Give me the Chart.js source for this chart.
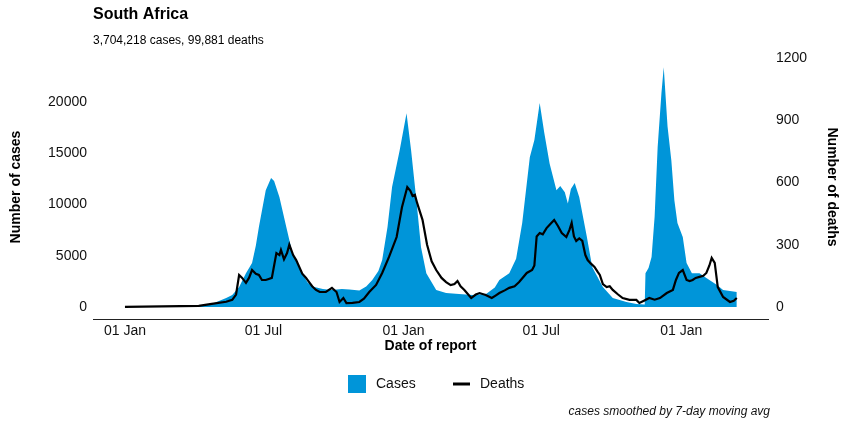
<!DOCTYPE html>
<html>
<head>
<meta charset="utf-8">
<script src="https://cdn.jsdelivr.net/npm/chart.js@4.4.1/dist/chart.umd.min.js"></script>
<style>
  html, body { margin: 0; padding: 0; background: #fff; }
  #wrap { width: 854px; height: 427px; }
</style>
</head>
<body>
<div id="wrap"><canvas id="chart" width="854" height="427"></canvas></div>
<script>
// days counted from 01 Jan 2020
const caseDays = [0, 60, 84, 100, 114, 133, 141, 150, 159, 167, 172, 176, 185, 192, 196, 203, 212, 220, 229, 240, 246, 260, 272, 285, 295, 308, 317, 325, 333, 338, 345, 351, 361, 370, 376, 383, 389, 396, 409, 422, 439, 457, 475, 486, 492, 505, 514, 522, 532, 538, 545, 551, 558, 567, 572, 578, 582, 586, 591, 597, 607, 614, 628, 641, 659, 672, 683, 684, 688, 692, 696, 700, 705, 708, 713, 718, 722, 726, 733, 738, 745, 755, 764, 778, 786, 804];
const caseCounts = [0, 0, 20, 120, 300, 880, 1170, 1950, 3300, 4290, 6000, 7800, 11400, 12580, 12300, 10700, 7800, 5270, 3800, 2400, 2000, 1750, 1650, 1750, 1700, 1600, 2000, 2630, 3500, 4590, 7800, 11700, 15300, 18900, 15300, 10400, 5850, 3300, 1660, 1370, 1270, 1170, 1300, 1900, 2630, 3300, 4700, 8200, 14600, 16300, 19900, 17000, 14000, 11400, 11800, 11200, 10100, 11500, 12100, 10700, 6830, 3900, 1950, 880, 490, 300, 250, 3300, 3800, 4880, 8800, 15600, 20900, 23400, 17600, 14300, 10400, 8200, 6830, 4290, 3300, 3300, 2830, 2150, 1660, 1460];

const deathDays = [0, 97, 114, 133, 141, 146, 150, 154, 159, 163, 167, 172, 176, 180, 185, 189, 193, 199, 203, 205, 209, 213, 216, 221, 225, 233, 238, 242, 246, 251, 256, 264, 268, 272, 278, 282, 287, 291, 299, 308, 314, 321, 330, 338, 347, 357, 364, 371, 375, 378, 381, 384, 391, 397, 403, 409, 416, 422, 428, 433, 437, 441, 446, 455, 461, 466, 474, 482, 487, 492, 499, 505, 512, 518, 528, 535, 538, 541, 545, 549, 554, 559, 564, 569, 574, 580, 584, 587, 590, 593, 597, 601, 605, 608, 612, 617, 621, 624, 628, 633, 637, 641, 648, 654, 663, 672, 676, 682, 689, 696, 703, 712, 720, 724, 728, 733, 738, 742, 746, 750, 755, 760, 764, 768, 771, 775, 779, 786, 795, 800, 804];
const deathCounts = [0, 5, 15, 25, 34, 60, 154, 140, 116, 140, 178, 160, 154, 130, 130, 135, 140, 260, 250, 275, 230, 260, 300, 250, 226, 160, 140, 120, 100, 82, 72, 72, 82, 92, 72, 24, 43, 19, 20, 24, 40, 72, 106, 164, 241, 337, 480, 578, 560, 535, 540, 500, 420, 300, 220, 178, 140, 120, 105, 110, 125, 100, 82, 43, 60, 67, 58, 43, 55, 67, 80, 92, 100, 120, 164, 178, 200, 340, 356, 350, 380, 400, 419, 390, 356, 337, 370, 405, 340, 318, 330, 318, 250, 226, 210, 193, 170, 154, 110, 96, 100, 82, 60, 43, 34, 34, 19, 30, 43, 35, 43, 67, 82, 130, 164, 178, 130, 125, 130, 140, 145, 150, 164, 200, 236, 212, 96, 48, 24, 30, 43];

const xTickDays = [0, 182, 366, 547, 731];
const xTickLabels = ["01 Jan", "01 Jul", "01 Jan", "01 Jul", "01 Jan"];
const caseTicks = [0, 5000, 10000, 15000, 20000];
const deathTicks = [0, 300, 600, 900, 1200];

const BLUE = "#0095d9";
Chart.defaults.font.family = "'Liberation Sans', Arial, Helvetica, sans-serif";
Chart.defaults.color = "#111";

// legend + caption drawn under the axis
const bottomText = {
  id: "bottomText",
  afterDraw(chart) {
    const ctx = chart.ctx;
    ctx.save();
    ctx.fillStyle = BLUE;
    ctx.fillRect(348, 375, 18, 18);
    ctx.strokeStyle = "#000";
    ctx.lineWidth = 3;
    ctx.beginPath();
    ctx.moveTo(453, 384);
    ctx.lineTo(470, 384);
    ctx.stroke();
    ctx.fillStyle = "#111";
    ctx.textBaseline = "middle";
    ctx.font = "14px 'Liberation Sans', Arial, sans-serif";
    ctx.fillText("Cases", 376, 384);
    ctx.fillText("Deaths", 480, 384);
    ctx.font = "italic 12px 'Liberation Sans', Arial, sans-serif";
    ctx.textAlign = "right";
    ctx.fillText("cases smoothed by 7-day moving avg", 770, 412);
    ctx.restore();
  }
};

let ctx = document.getElementById("chart").getContext("2d");

let data = {
  datasets: [
    {
      label: "Deaths",
      data: deathDays.map((d, i) => ({x: d, y: deathCounts[i]})),
      yAxisID: "y1",
      borderColor: "#000",
      borderWidth: 2.2,
      pointRadius: 0,
      fill: false,
      tension: 0,
      order: 0
    },
    {
      label: "Cases",
      data: caseDays.map((d, i) => ({x: d, y: caseCounts[i]})),
      yAxisID: "y",
      backgroundColor: BLUE,
      borderWidth: 0,
      pointRadius: 0,
      fill: "origin",
      tension: 0,
      order: 1
    }
  ]
};

let noGrid = { display: false, drawTicks: false, tickLength: 0 };

let options = {
  responsive: false,
  animation: false,
  devicePixelRatio: 1,
  layout: { padding: { left: 0, right: 0, top: 0, bottom: 71 } },
  plugins: {
    legend: { display: false },
    tooltip: { enabled: false },
    title: {
      display: true, text: "South Africa", align: "start", fullSize: false,
      font: { size: 16, weight: "bold" }, color: "#000",
      padding: { top: 5, bottom: 5 }
    },
    subtitle: {
      display: true, text: "3,704,218 cases, 99,881 deaths", align: "start", fullSize: false,
      font: { size: 12 }, color: "#000",
      padding: { top: 4.6, bottom: 6.8 }
    }
  },
  scales: {
    x: {
      type: "linear", min: -42, max: 845,
      afterBuildTicks: s => { s.ticks = xTickDays.map(v => ({value: v})); },
      afterFit: s => { s.height = 37; },
      ticks: { callback: v => xTickLabels[xTickDays.indexOf(v)], font: { size: 14 }, padding: 4, maxRotation: 0, autoSkip: false },
      grid: noGrid,
      border: { display: true, color: "#222", width: 1 },
      title: { display: true, text: "Date of report", font: { size: 14, weight: "bold" }, color: "#000", padding: { top: 0, bottom: 1 } }
    },
    y: {
      position: "left", min: -1171, max: 24585,
      afterBuildTicks: s => { s.ticks = caseTicks.map(v => ({value: v})); },
      afterFit: s => { s.width = 93; },
      ticks: { callback: v => String(v), font: { size: 14 }, padding: 6 },
      grid: noGrid,
      border: { display: false },
      title: { display: true, text: "Number of cases", font: { size: 14, weight: "bold" }, color: "#000", padding: { top: 7.6, bottom: 0 } }
    },
    y1: {
      position: "right", min: -58, max: 1214,
      afterBuildTicks: s => { s.ticks = deathTicks.map(v => ({value: v})); },
      afterFit: s => { s.width = 86; },
      ticks: { callback: v => String(v), font: { size: 14 }, padding: 8 },
      grid: noGrid,
      border: { display: false },
      title: { display: true, text: "Number of deaths", font: { size: 14, weight: "bold" }, color: "#000", padding: { top: 13.6, bottom: 0 } }
    }
  }
};

let chart = new Chart(ctx, {
  type: "line",
  data: data,
  options: options,
  plugins: [bottomText]
});
</script>
</body>
</html>
